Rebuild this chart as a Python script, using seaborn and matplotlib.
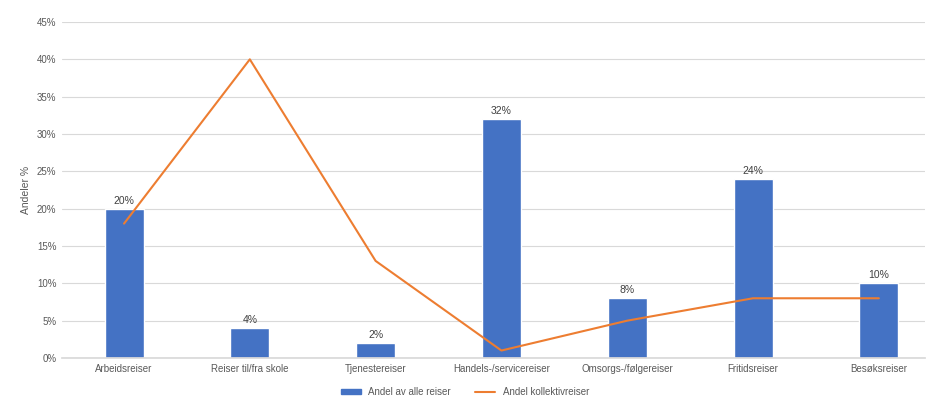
import matplotlib
matplotlib.use("Agg")
import matplotlib.pyplot as plt
import seaborn as sns
import pandas as pd
from matplotlib.ticker import PercentFormatter, MultipleLocator
from matplotlib.lines import Line2D
from matplotlib.patches import Patch

categories = ["Arbeidsreiser", "Reiser til/fra skole", "Tjenestereiser",
              "Handels-/servicereiser", "Omsorgs-/følgereiser", "Fritidsreiser", "Besøksreiser"]
andel_alle = [20, 4, 2, 32, 8, 24, 10]
andel_kollektiv = [18, 40, 13, 1, 5, 8, 8]

sns.set_theme(style="white")
plt.rcParams['font.family'] = ['Liberation Sans', 'DejaVu Sans']

df = pd.DataFrame({"kat": categories, "alle": andel_alle, "koll": andel_kollektiv})

fig = plt.figure(figsize=(9.3, 4.01), dpi=100)
ax = fig.add_axes([62/930, (401-358)/401, (925-62)/930, (358-22)/401])

sns.barplot(data=df, x="kat", y="alle", color="#4472C4", width=0.31, ax=ax, saturation=1)
ax.plot(range(len(categories)), andel_kollektiv, color="#ED7D31", lw=1.5)

for i, v in enumerate(andel_alle):
    ax.text(i, v + 0.4, f"{v}%", ha="center", va="bottom", fontsize=7.5, color="#404040")

ax.set_ylim(0, 45)
ax.set_xlim(-0.493, 6.367)
ax.yaxis.set_major_locator(MultipleLocator(5))
ax.yaxis.set_major_formatter(PercentFormatter(decimals=0))
ax.grid(axis="y", color="#D9D9D9", lw=0.8)
ax.set_axisbelow(True)
for s in ["top", "right", "left"]:
    ax.spines[s].set_visible(False)
ax.spines["bottom"].set_color("#D9D9D9")
ax.tick_params(axis="both", labelsize=7, colors="#595959", length=0, pad=4)
ax.set_xlabel("")
ax.set_ylabel("Andeler %", fontsize=7.5, color="#595959", labelpad=4)

handles = [Patch(color="#4472C4", label="Andel av alle reiser"),
           Line2D([0], [0], color="#ED7D31", lw=1.5, label="Andel kollektivreiser")]
fig.legend(handles=handles, loc="center", bbox_to_anchor=(0.5, (401-392)/401), ncol=2,
           frameon=False, fontsize=7, labelcolor="#595959", handlelength=2.0, columnspacing=2.5,
           handleheight=0.5)

fig.savefig("out.png", dpi=100)
